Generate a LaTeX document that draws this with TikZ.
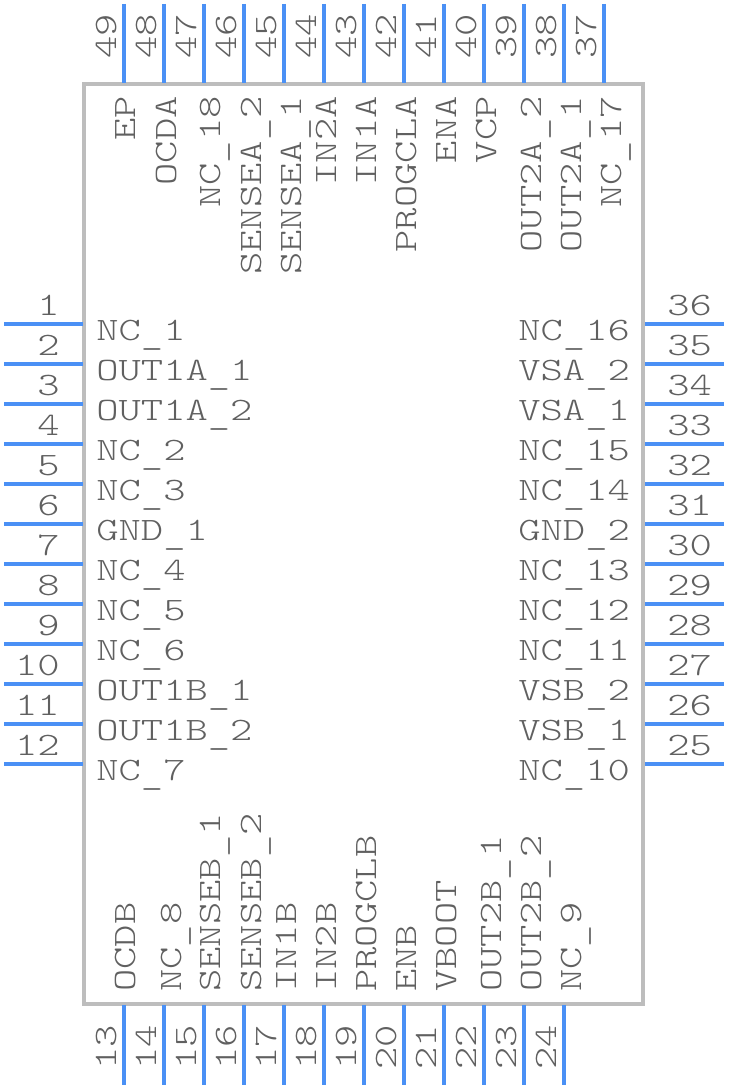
\documentclass[tikz,border=0pt]{standalone}
\usepackage{fontspec}
\newfontfamily\pinfont[FakeStretch=1.3]{Latin Modern Mono Light}
\definecolor{pinblue}{HTML}{4A90F5}
\definecolor{bodygrey}{HTML}{BDBDBD}
\definecolor{textgrey}{HTML}{606060}
\def\us{\raisebox{-2.6pt}{\_}}
\tikzset{
	pin line/.style={line width=2.2pt, color=pinblue},
	pin text/.style={inner sep=0pt, color=textgrey, font=\pinfont\fontsize{18.6}{20}\selectfont},
	vert text/.style={pin text, rotate=90},
}
\def\leftpin(#1)(#2)(#3){\draw[pin line] (4, #1) -- (83, #1); \node[pin text, anchor=base east] (num#2) at (60, #1-9) {#2}; \node[pin text, anchor=base west] (name#2) at (96, #1+16) {#3};}
\def\rightpin(#1)(#2)(#3){\draw[pin line] (645, #1) -- (724, #1); \node[pin text, anchor=base west] (num#2) at (667, #1-9) {#2}; \node[pin text, anchor=base west] (name#2) at (518, #1+16) {#3};}
\def\toppin(#1:#2)(#3)(#4){\draw[pin line] (#1, 4) -- (#1, 83); \node[vert text, anchor=base west] (num#3) at (#1-8, 59) {#3}; \node[vert text, anchor=base east] (name#3) at (#1+#2, 96) {#4};}
\def\botpin(#1:#2)(#3)(#4){\draw[pin line] (#1, 1005) -- (#1, 1085); \node[vert text, anchor=base west] (num#3) at (#1-8, 1070) {#3}; \node[vert text, anchor=base west] (name#3) at (#1+#2, 992) {#4};}

\begin{document}
\begin{tikzpicture}[x=0.02cm, y=-0.02cm]
	%%%%% START %%%%%
	\useasboundingbox (0, 0) rectangle (728, 1088);
	
	\draw[line width=2.2pt, color=bodygrey] (84, 84) rectangle (643, 1004);
	
	%%%%% LEFT %%%%%
	\leftpin(324)(1)(NC\us 1);
	\leftpin(364)(2)(OUT1A\us 1);
	\leftpin(404)(3)(OUT1A\us 2);
	\leftpin(444)(4)(NC\us 2);
	\leftpin(484)(5)(NC\us 3);
	\leftpin(524)(6)(GND\us 1);
	\leftpin(564)(7)(NC\us 4);
	\leftpin(604)(8)(NC\us 5);
	\leftpin(644)(9)(NC\us 6);
	\leftpin(684)(10)(OUT1B\us 1);
	\leftpin(724)(11)(OUT1B\us 2);
	\leftpin(764)(12)(NC\us 7);
	
	%%%%% BOTTOM %%%%%
	\botpin(124:11)(13)(OCDB);
	\botpin(164:17)(14)(NC\us 8);
	\botpin(204:16)(15)(SENSEB\us 1);
	\botpin(244:17)(16)(SENSEB\us 2);
	\botpin(284:12)(17)(IN1B);
	\botpin(324:12)(18)(IN2B);
	\botpin(364:12)(19)(PROGCLB);
	\botpin(404:12)(20)(ENB);
	\botpin(444:12)(21)(VBOOT);
	\botpin(484:17)(22)(OUT2B\us 1);
	\botpin(524:17)(23)(OUT2B\us 2);
	\botpin(564:17)(24)(NC\us 9);
	
	%%%%% RIGHT %%%%%
	\rightpin(764)(25)(NC\us 10);
	\rightpin(724)(26)(VSB\us 1);
	\rightpin(684)(27)(VSB\us 2);
	\rightpin(644)(28)(NC\us 11);
	\rightpin(604)(29)(NC\us 12);
	\rightpin(564)(30)(NC\us 13);
	\rightpin(524)(31)(GND\us 2);
	\rightpin(484)(32)(NC\us 14);
	\rightpin(444)(33)(NC\us 15);
	\rightpin(404)(34)(VSA\us 1);
	\rightpin(364)(35)(VSA\us 2);
	\rightpin(324)(36)(NC\us 16);
	
	%%%%% TOP %%%%%
	\toppin(604:17)(37)(NC\us 17);
	\toppin(564:17)(38)(OUT2A\us 1);
	\toppin(524:17)(39)(OUT2A\us 2);
	\toppin(484:12)(40)(VCP);
	\toppin(444:12)(41)(ENA);
	\toppin(404:12)(42)(PROGCLA);
	\toppin(364:12)(43)(IN1A);
	\toppin(324:12)(44)(IN2A);
	\toppin(284:17)(45)(SENSEA\us 1);
	\toppin(244:17)(46)(SENSEA\us 2);
	\toppin(204:16)(47)(NC\us 18);
	\toppin(164:12)(48)(OCDA);
	\toppin(124:11)(49)(EP);
	
	%%%%% END %%%%%
\end{tikzpicture}
\end{document}
